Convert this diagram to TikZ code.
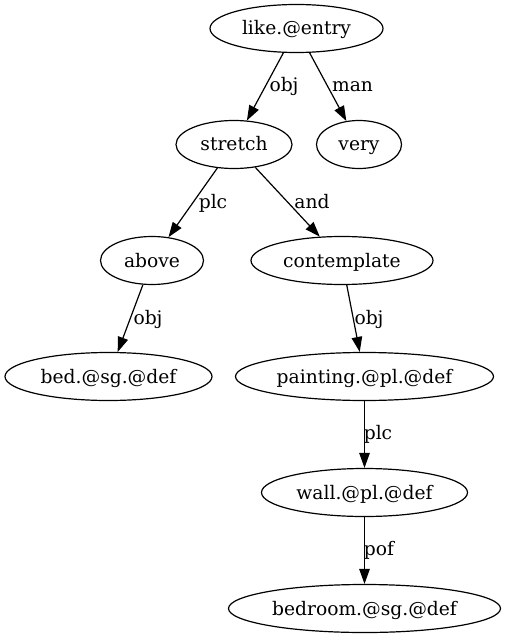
\documentclass[tikz,border=0pt]{standalone}
\usepackage{fontspec}
\setmainfont{DejaVu Serif}
\usetikzlibrary{shapes.geometric,arrows.meta}
\begin{document}
\begin{tikzpicture}[x=1pt,y=-1pt,
  every node/.style={font=\fontsize{18.67}{22}\selectfont, text height=17pt, text depth=4pt, inner sep=0pt},
  gnode/.style={draw, ellipse, line width=1.2pt, minimum height=48pt},
  edge/.style={line width=1.2pt, -{Triangle[length=15pt,width=10.5pt]}},
  elabel/.style={}]
\useasboundingbox (0,0) rectangle (505,639);
\node[gnode, minimum width=173pt] (like) at (296.5,28.5) {like.@entry};
\node[gnode, minimum width=116pt] (stretch) at (234,144.5) {stretch};
\node[gnode, minimum width=85pt] (very) at (359,144.5) {very};
\node[gnode, minimum width=103pt] (above) at (152,260.5) {above};
\node[gnode, minimum width=182pt] (contemplate) at (342,260.5) {contemplate};
\node[gnode, minimum width=207pt] (bed) at (108.5,376.5) {bed.@sg.@def};
\node[gnode, minimum width=258pt] (painting) at (364.5,376.5) {painting.@pl.@def};
\node[gnode, minimum width=206pt] (wall) at (364.5,492.5) {wall.@pl.@def};
\node[gnode, minimum width=272pt] (bedroom) at (364.5,608.5) {bedroom.@sg.@def};
\draw[edge] (like) -- (stretch);
\draw[edge] (like) -- (very);
\draw[edge] (stretch) -- (above);
\draw[edge] (stretch) -- (contemplate);
\draw[edge] (above) -- (bed);
\draw[edge] (contemplate) -- (painting);
\draw[edge] (painting) -- (wall);
\draw[edge] (wall) -- (bedroom);
\node[elabel] (l1) at (284,85.5) {obj};
\node[elabel] (l2) at (352.5,85.5) {man};
\node[elabel] (l3) at (213,201.5) {plc};
\node[elabel] (l4) at (312,201.5) {and};
\node[elabel] (l5) at (148,317.5) {obj};
\node[elabel] (l6) at (369,317.5) {obj};
\node[elabel] (l7) at (378,433) {plc};
\node[elabel] (l8) at (379,549) {pof};
\end{tikzpicture}
\end{document}
